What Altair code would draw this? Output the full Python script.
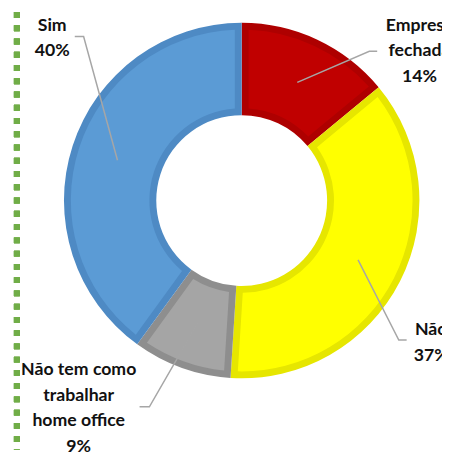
import math
import altair as alt
import pandas as pd

# ---- data ----
categories = ["Empresa fechada", "Não", "Não tem como trabalhar home office", "Sim"]
values = [14, 37, 9, 40]
label_lines = [
    "Empresa\nfechada\n14%",
    "Não\n37%",
    "Não tem como\ntrabalhar\nhome office\n9%",
    "Sim\n40%",
]

# ---- styles / layout ----
fill_colors = ["#C00000", "#FFFF00", "#A5A5A5", "#5B9BD5"]
border_colors = ["#AE0000", "#E6E600", "#8E8E8E", "#4E8AC4"]
CX, CY = 238, 192          # donut centre (plot coordinates)
R_OUT, R_IN = 181, 87
BORDER = 7
LEADER_R = 133
# label anchor (centre x, first-line y) and leader elbow/end
label_pos = [(419, 14), (431, 324), (72, 365), (45, 14)]
elbows = [((368, 40), 376), ((398, 334), 406), ((144, 402), 134), ((77, 25), 68)]

df = pd.DataFrame({
    "cat": categories,
    "value": values,
    "idx": list(range(len(values))),
    "fill": fill_colors,
    "border": border_colors,
})

# leader lines: start at slice mid-angle
total = sum(values)
rows = []
cum = 0
for i, v in enumerate(values):
    mid = 2 * math.pi * (cum + v / 2) / total
    cum += v
    sx = CX + LEADER_R * math.sin(mid)
    sy = CY - LEADER_R * math.cos(mid)
    (ex, ey), endx = elbows[i]
    rows += [
        {"cat": categories[i], "o": 0, "x": sx, "y": sy},
        {"cat": categories[i], "o": 1, "x": ex, "y": ey},
        {"cat": categories[i], "o": 2, "x": endx, "y": ey},
    ]
leaders = pd.DataFrame(rows)

labels = pd.DataFrame({
    "cat": categories,
    "text": label_lines,
    "x": [p[0] for p in label_pos],
    "y": [p[1] for p in label_pos],
})

base = alt.Chart(df).encode(
    theta=alt.Theta("value:Q", stack=True),
    order=alt.Order("idx:Q"),
    x=alt.value(CX),
    y=alt.value(CY),
)

outer = base.mark_arc(radius=R_OUT, radius2=R_IN).encode(
    fill=alt.Fill("border:N", scale=None)
)
pad = 2 * math.asin(BORDER / math.sqrt((R_OUT - BORDER) ** 2 + (R_IN + BORDER) ** 2))
inner = base.mark_arc(radius=R_OUT - BORDER, radius2=R_IN + BORDER, padAngle=pad).encode(
    fill=alt.Fill("fill:N", scale=None)
)

lines = alt.Chart(leaders).mark_line(color="#A6A6A6", strokeWidth=1.5).encode(
    x=alt.X("x:Q", scale=None),
    y=alt.Y("y:Q", scale=None),
    detail="cat:N",
    order="o:Q",
)

text = alt.Chart(labels).mark_text(
    font="Lato", fontWeight="bold", fontSize=18, color="#111111",
    align="center", baseline="middle", lineBreak="\n", lineHeight=26,
).encode(
    x=alt.X("x:Q", scale=None),
    y=alt.Y("y:Q", scale=None),
    text="text:N",
)

border_line = alt.Chart(df).mark_rule(
    color="#70AD47", strokeWidth=6, strokeDash=[6, 7.5]
).encode(x=alt.value(9), y=alt.value(0), y2=alt.value(446))

chart = alt.layer(outer, inner, lines, text, border_line).properties(
    width=442, height=446, padding=0, autosize="none"
).configure_view(stroke=None)

chart.save("out.html", embed_options={"renderer": "svg", "actions": False})
